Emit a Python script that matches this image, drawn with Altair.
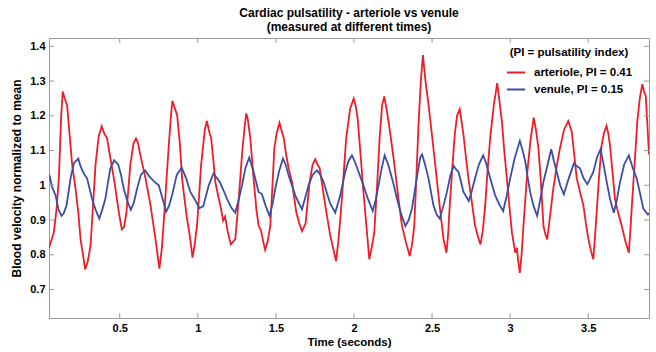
import altair as alt
import pandas as pd

# ---- data ----
art_t = [0.047, 0.068, 0.078, 0.095, 0.11, 0.125, 0.135, 0.148, 0.163, 0.18, 0.195, 0.217, 0.235, 0.249, 0.265, 0.278,
         0.295, 0.313, 0.33, 0.345, 0.365, 0.385, 0.40, 0.419, 0.44, 0.466, 0.494, 0.513, 0.528, 0.543, 0.568, 0.588,
         0.604, 0.618, 0.632, 0.665, 0.697, 0.729, 0.742, 0.754, 0.77, 0.786, 0.814, 0.828, 0.837, 0.85, 0.867, 0.885,
         0.899, 0.915, 0.931, 0.95, 0.966, 0.98, 0.995, 1.021, 1.045, 1.058, 1.07, 1.085, 1.10, 1.112, 1.13, 1.144,
         1.162, 1.175, 1.19, 1.211, 1.24, 1.26, 1.285, 1.30, 1.31, 1.32, 1.336, 1.357, 1.375, 1.389, 1.404, 1.418,
         1.431, 1.448, 1.464, 1.478, 1.49, 1.505, 1.523, 1.535, 1.55, 1.565, 1.581, 1.603, 1.63, 1.65, 1.667, 1.68,
         1.69, 1.716, 1.735, 1.752, 1.765, 1.78, 1.80, 1.816, 1.848, 1.885, 1.90, 1.916, 1.935, 1.95, 1.975, 1.998,
         2.01, 2.023, 2.04, 2.057, 2.078, 2.098, 2.113, 2.13, 2.148, 2.164, 2.18, 2.194, 2.208, 2.221, 2.236, 2.25,
         2.264, 2.285, 2.307, 2.33, 2.357, 2.372, 2.386, 2.40, 2.414, 2.428, 2.441, 2.458, 2.477, 2.499, 2.52, 2.541,
         2.573, 2.592, 2.603, 2.613, 2.628, 2.645, 2.66, 2.677, 2.69, 2.701, 2.717, 2.733, 2.755, 2.775, 2.795, 2.81,
         2.825, 2.84, 2.855, 2.872, 2.895, 2.917, 2.932, 2.947, 2.962, 2.979, 2.995, 3.011, 3.032, 3.043, 3.052, 3.062,
         3.073, 3.085, 3.097, 3.11, 3.13, 3.151, 3.165, 3.181, 3.192, 3.202, 3.213, 3.225, 3.237, 3.255, 3.276, 3.30,
         3.319, 3.345, 3.372, 3.383, 3.394, 3.41, 3.426, 3.448, 3.469, 3.485, 3.501, 3.518, 3.532, 3.543, 3.554, 3.57,
         3.586, 3.60, 3.617, 3.628, 3.639, 3.655, 3.671, 3.692, 3.714, 3.737, 3.76, 3.771, 3.782, 3.798, 3.814, 3.83,
         3.846, 3.857, 3.868, 3.878, 3.889]
art_v = [0.82, 0.85, 0.865, 0.93, 1.02, 1.20, 1.27, 1.25, 1.23, 1.14, 1.06, 0.99, 0.92, 0.845, 0.80, 0.758,
         0.78, 0.826, 0.95, 1.06, 1.14, 1.17, 1.15, 1.135, 1.078, 1.01, 0.923, 0.873, 0.88, 0.923, 1.06, 1.12,
         1.135, 1.12, 1.087, 1.02, 0.942, 0.845, 0.80, 0.76, 0.82, 0.923, 1.116, 1.20, 1.243, 1.225, 1.203, 1.12,
         1.02, 0.96, 0.903, 0.85, 0.792, 0.83, 0.884, 1.058, 1.16, 1.185, 1.16, 1.136, 1.07, 1.01, 0.97, 0.942,
         0.898, 0.91, 0.87, 0.83, 0.845, 0.95, 1.10, 1.17, 1.207, 1.19, 1.136, 1.02, 0.93, 0.884, 0.87, 0.84,
         0.814, 0.84, 0.884, 1.00, 1.107, 1.15, 1.18, 1.16, 1.136, 1.09, 1.05, 1.01, 0.923, 0.89, 0.868, 0.88,
         0.89, 1.01, 1.06, 1.075, 1.06, 1.05, 0.99, 0.942, 0.855, 0.782, 0.84, 0.923, 1.04, 1.136, 1.22, 1.25,
         1.23, 1.194, 1.10, 1.0, 0.89, 0.787, 0.82, 0.865, 1.00, 1.136, 1.23, 1.256, 1.22, 1.184, 1.136, 1.09,
         1.039, 0.96, 0.884, 0.84, 0.796, 0.83, 0.884, 1.03, 1.184, 1.30, 1.375, 1.30, 1.233, 1.145, 1.06, 0.971,
         0.845, 0.806, 0.86, 0.942, 1.04, 1.145, 1.20, 1.219, 1.18, 1.145, 1.08, 1.02, 0.95, 0.884, 0.85, 0.83,
         0.87, 0.942, 1.04, 1.136, 1.23, 1.294, 1.24, 1.184, 1.10, 1.02, 0.94, 0.865, 0.806, 0.82, 0.78, 0.748,
         0.80, 0.884, 0.96, 1.039, 1.13, 1.195, 1.16, 1.107, 1.04, 0.971, 0.884, 0.86, 0.844, 0.91, 0.99, 1.06,
         1.107, 1.16, 1.185, 1.17, 1.155, 1.09, 1.02, 0.98, 0.942, 0.89, 0.845, 0.81, 0.787, 0.85, 0.923, 1.03,
         1.116, 1.15, 1.171, 1.15, 1.116, 1.04, 0.961, 0.92, 0.884, 0.84, 0.806, 0.88, 0.961, 1.07, 1.184, 1.25,
         1.291, 1.27, 1.257, 1.18, 1.089]

ven_t = [0.047, 0.052, 0.067, 0.089, 0.108, 0.128, 0.142, 0.159, 0.172, 0.185, 0.206, 0.22, 0.235, 0.245, 0.259,
         0.275, 0.291, 0.307, 0.323, 0.345, 0.369, 0.388, 0.408, 0.425, 0.44, 0.464, 0.49, 0.508, 0.526, 0.548,
         0.571, 0.59, 0.611, 0.635, 0.662, 0.69, 0.718, 0.75, 0.775, 0.797, 0.815, 0.835, 0.865, 0.897, 0.925,
         0.952, 0.98, 1.01, 1.035, 1.07, 1.10, 1.14, 1.165, 1.187, 1.215, 1.239, 1.26, 1.283, 1.305, 1.329, 1.357,
         1.389, 1.41, 1.435, 1.459, 1.478, 1.496, 1.52, 1.545, 1.562, 1.581, 1.624, 1.645, 1.667, 1.688, 1.709,
         1.735, 1.763, 1.785, 1.805, 1.828, 1.848, 1.88, 1.912, 1.944, 1.965, 1.987, 2.008, 2.029, 2.06, 2.09,
         2.12, 2.14, 2.157, 2.178, 2.196, 2.215, 2.232, 2.255, 2.275, 2.30, 2.329, 2.35, 2.371, 2.398, 2.424,
         2.436, 2.455, 2.477, 2.509, 2.53, 2.549, 2.572, 2.595, 2.618, 2.638, 2.655, 2.669, 2.685, 2.701, 2.735,
         2.755, 2.775, 2.80, 2.827, 2.845, 2.861, 2.885, 2.904, 2.93, 2.955, 2.978, 3.0, 3.03, 3.062, 3.08, 3.097,
         3.113, 3.128, 3.15, 3.173, 3.193, 3.213, 3.24, 3.263, 3.28, 3.298, 3.32, 3.344, 3.375, 3.408, 3.428,
         3.447, 3.47, 3.494, 3.513, 3.533, 3.556, 3.579, 3.598, 3.618, 3.64, 3.664, 3.684, 3.704, 3.73, 3.76,
         3.785, 3.81, 3.83, 3.853, 3.882, 3.889]
ven_v = [1.03, 1.025, 0.995, 0.971, 0.93, 0.912, 0.92, 0.942, 0.98, 1.02, 1.063, 1.07, 1.077, 1.06, 1.044,
         1.03, 1.02, 0.99, 0.961, 0.93, 0.904, 0.93, 0.961, 1.01, 1.049, 1.072, 1.06, 1.03, 0.99, 0.955,
         0.929, 0.95, 0.99, 1.03, 1.043, 1.025, 1.012, 1.0, 0.96, 0.924, 0.94, 0.971, 1.03, 1.051, 1.02,
         0.981, 0.96, 0.934, 0.94, 1.0, 1.034, 1.01, 0.985, 0.961, 0.935, 0.921, 0.955, 1.0, 1.05, 1.08, 1.039,
         0.981, 0.975, 0.94, 0.912, 0.945, 0.99, 1.04, 1.077, 1.06, 1.029, 0.971, 0.95, 0.931, 0.965, 1.0,
         1.03, 1.043, 1.03, 1.01, 0.975, 0.947, 0.921, 0.971, 1.039, 1.07, 1.086, 1.065, 1.039, 1.0, 0.96,
         0.926, 0.96, 1.0, 1.05, 1.086, 1.065, 1.039, 1.0, 0.961, 0.92, 0.883, 0.90, 0.932, 1.01, 1.08,
         1.089, 1.06, 1.02, 0.942, 0.915, 0.904, 0.94, 0.981, 1.03, 1.056, 1.045, 1.039, 1.01, 0.981, 0.955,
         0.985, 1.02, 1.06, 1.086, 1.065, 1.039, 1.0, 0.971, 0.945, 0.926, 0.97, 1.02, 1.08, 1.128, 1.10, 1.068,
         1.02, 0.981, 0.94, 0.912, 0.96, 1.01, 1.06, 1.104, 1.07, 1.039, 1.0, 0.974, 1.02, 1.063, 1.055,
         1.049, 1.02, 1.003, 1.02, 1.039, 1.08, 1.104, 1.06, 1.01, 0.96, 0.921, 0.96, 1.01, 1.06, 1.086,
         1.05, 1.02, 0.98, 0.932, 0.916, 0.92]

series_names = ["arteriole, PI = 0.41", "venule, PI = 0.15"]
series_colors = ["#ee1d26", "#3a4ea6"]
x_ticks = [0.5, 1, 1.5, 2, 2.5, 3, 3.5]
y_ticks = [0.7, 0.8, 0.9, 1.0, 1.1, 1.2, 1.3, 1.4]
title_lines = ["Cardiac pulsatility - arteriole vs venule", "(measured at different times)"]

# ---- styling ----
W, H = 600, 280
FONT = "Liberation Sans"
AX = "#9a9a9a"

art = pd.DataFrame({"time": art_t, "value": art_v, "series": series_names[0]})
ven = pd.DataFrame({"time": ven_t, "value": ven_v, "series": series_names[1]})
xt = pd.DataFrame({"time": x_ticks})
yt = pd.DataFrame({"value": y_ticks})

xs = alt.Scale(domain=[0.047, 3.889], nice=False, zero=False)
ys = alt.Scale(domain=[0.618, 1.424], nice=False, zero=False)

xaxis = alt.Axis(values=x_ticks, format=".1~f", ticks=False, grid=False, title="Time (seconds)",
                 domainColor=AX, labelFont=FONT, labelFontSize=11, labelFontWeight="bold", labelColor="black",
                 labelPadding=4, titleFont=FONT, titleFontSize=11.5, titleFontWeight="bold", titleColor="black",
                 titlePadding=3)
yaxis = alt.Axis(values=y_ticks, format=".1~f", ticks=False, grid=False, title="Blood velocity normalized to mean",
                 domainColor=AX, labelFont=FONT, labelFontSize=11, labelFontWeight="bold", labelColor="black",
                 labelPadding=4, titleFont=FONT, titleFontSize=12, titleFontWeight="bold", titleColor="black",
                 titlePadding=6)

color = alt.Color("series:N", scale=alt.Scale(domain=series_names, range=series_colors),
                  legend=alt.Legend(title="(PI = pulsatility index)", orient="none", legendX=457, legendY=9,
                                    titleFont=FONT, titleFontSize=11.5, titleFontWeight="bold", titleColor="black",
                                    titleAnchor="middle", titlePadding=4,
                                    labelFont=FONT, labelFontSize=11.5, labelFontWeight="bold", labelColor="black",
                                    symbolType="stroke", symbolSize=324, symbolStrokeWidth=2, labelOffset=8,
                                    rowPadding=1, padding=0))

X = alt.X("time:Q", scale=xs, axis=xaxis)
Y = alt.Y("value:Q", scale=ys, axis=yaxis)

line_a = alt.Chart(art).mark_line(strokeWidth=1.8, clip=True).encode(x=X, y=Y, color=color)
line_v = alt.Chart(ven).mark_line(strokeWidth=1.8, clip=True).encode(x=X, y=Y, color=color)

tick_b = alt.Chart(xt).mark_rule(color=AX, strokeWidth=1).encode(x=X, y=alt.value(H), y2=alt.value(H - 5))
tick_t = alt.Chart(xt).mark_rule(color=AX, strokeWidth=1).encode(x=X, y=alt.value(0), y2=alt.value(5))
tick_l = alt.Chart(yt).mark_rule(color=AX, strokeWidth=1).encode(y=Y, x=alt.value(0), x2=alt.value(5))
tick_r = alt.Chart(yt).mark_rule(color=AX, strokeWidth=1).encode(y=Y, x=alt.value(W), x2=alt.value(W - 5))

chart = alt.layer(line_a, line_v, tick_b, tick_t, tick_l, tick_r).properties(
    width=W, height=H,
    padding={"left": 49, "top": 38, "right": 7, "bottom": 34},
    autosize=alt.AutoSizeParams(type="none"),
    background="white",
    title=alt.TitleParams(text=title_lines, font=FONT, fontSize=12, fontWeight="bold", color="black",
                          anchor="middle", frame="group", offset=4, lineHeight=13.5),
).configure_view(stroke=AX, strokeWidth=1)

chart.save("out.html", embed_options={"renderer": "svg", "actions": False})
